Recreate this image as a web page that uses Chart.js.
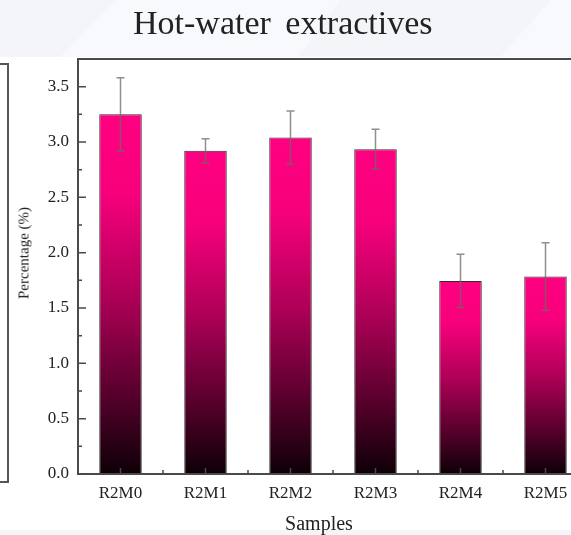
<!DOCTYPE html>
<html>
<head>
<meta charset="utf-8">
<script src="https://cdn.jsdelivr.net/npm/chart.js@4.4.0/dist/chart.umd.min.js"></script>
<style>
	html, body { margin: 0; padding: 0; background: #ffffff; }
	#wrap { position: relative; width: 571px; height: 535px; overflow: hidden; background: #ffffff; }
	#band { position: absolute; left: 0; top: 0; width: 571px; height: 57px; background: #f3f5f9; overflow: hidden; }
	.shape { position: absolute; background: rgba(255, 255, 255, 0.45); }
	#bottomBand { position: absolute; left: 0; top: 530px; width: 571px; height: 5px; background: #f3f5f9; }
	#leftFrame { position: absolute; left: -10px; top: 63px; width: 17px; height: 416px; border: 2px solid #555; border-left: none; }
	#chart { position: absolute; left: 0; top: 0; }
	.serif { font-family: 'Liberation Serif', 'Times New Roman', serif; color: #222; position: absolute; white-space: nowrap; }
	#title { left: 133px; top: 4px; font-size: 34px; word-spacing: 6px; }
	#ytitle { left: 24px; top: 253px; font-size: 15px; transform: translate(-50%, -50%) rotate(-90deg); }
	#xtitle { left: 319px; top: 523px; font-size: 20px; transform: translate(-50%, -50%); }
</style>
</head>
<body>
<div id="wrap">
	<div id="band">
		<div class="shape" style="left:60px; top:0; width:280px; height:57px; clip-path: polygon(20% 0, 100% 0, 85% 100%, 0 100%);"></div>
		<div class="shape" style="left:470px; top:0; width:101px; height:57px; clip-path: polygon(80% 0, 100% 0, 100% 100%, 30% 100%);"></div>
	</div>
	<div id="bottomBand"></div>
	<div id="leftFrame"></div>
	<canvas id="chart" width="620" height="535"></canvas>
	<div id="title" class="serif">Hot-water extractives</div>
	<div id="ytitle" class="serif">Percentage (%)</div>
	<div id="xtitle" class="serif">Samples</div>
</div>
<script>
	const samples = ['R2M0', 'R2M1', 'R2M2', 'R2M3', 'R2M4', 'R2M5'];
	const percentage = [3.25, 2.92, 3.04, 2.935, 1.745, 1.785];
	const errors = [0.33, 0.11, 0.24, 0.18, 0.24, 0.305];
	const yTicks = [0, 0.5, 1.0, 1.5, 2.0, 2.5, 3.0, 3.5];

	const serif = "'Liberation Serif', 'Times New Roman', serif";
	const axisColor = '#4a4a4a';

	function barGradient(context) {
		const chart = context.chart;
		if (!chart.chartArea || context.type !== 'data') return '#ff0080';
		const y = chart.scales.y;
		const top = y.getPixelForValue(context.raw);
		const bottom = y.getPixelForValue(0);
		const g = chart.ctx.createLinearGradient(0, top, 0, bottom);
		g.addColorStop(0, '#ff0080');
		g.addColorStop(0.22, '#f7007c');
		g.addColorStop(0.5, '#b00058');
		g.addColorStop(0.75, '#600030');
		g.addColorStop(1, '#0e0007');
		return g;
	}

	// error bars + axis frame with inward ticks
	const extras = {
		id: 'extras',
		afterDatasetsDraw(chart) {
			const ctx = chart.ctx;
			const y = chart.scales.y;
			const meta = chart.getDatasetMeta(0);
			ctx.save();
			ctx.strokeStyle = 'rgba(105, 105, 105, 0.75)';
			ctx.lineWidth = 1.5;
			meta.data.forEach((bar, i) => {
				const hi = y.getPixelForValue(percentage[i] + errors[i]);
				const lo = y.getPixelForValue(percentage[i] - errors[i]);
				ctx.beginPath();
				ctx.moveTo(bar.x, hi);
				ctx.lineTo(bar.x, lo);
				ctx.moveTo(bar.x - 4, hi);
				ctx.lineTo(bar.x + 4, hi);
				ctx.moveTo(bar.x - 4, lo);
				ctx.lineTo(bar.x + 4, lo);
				ctx.stroke();
			});
			ctx.restore();
		},
		afterDraw(chart) {
			const ctx = chart.ctx;
			const { left, right, top, bottom } = chart.chartArea;
			const y = chart.scales.y;
			const x = chart.scales.x;
			ctx.save();
			ctx.strokeStyle = axisColor;
			ctx.lineWidth = 2;
			ctx.beginPath();
			ctx.moveTo(left, bottom);
			ctx.lineTo(left, top);
			ctx.lineTo(right, top);
			ctx.moveTo(left - 1, bottom);
			ctx.lineTo(right, bottom);
			ctx.stroke();

			ctx.lineWidth = 1.5;
			ctx.beginPath();
			yTicks.forEach(v => {
				const py = y.getPixelForValue(v);
				ctx.moveTo(left, py);
				ctx.lineTo(left + 8, py);
				const pm = y.getPixelForValue(v + 0.25);
				ctx.moveTo(left, pm);
				ctx.lineTo(left + 4, pm);
			});
			samples.forEach((s, i) => {
				const px = x.getPixelForValue(i);
				ctx.moveTo(px, bottom);
				ctx.lineTo(px, bottom - 6);
				const pm = px + (x.getPixelForValue(1) - x.getPixelForValue(0)) / 2;
				ctx.moveTo(pm, bottom);
				ctx.lineTo(pm, bottom - 4);
			});
			ctx.stroke();
			ctx.restore();
		}
	};

	new Chart(document.getElementById('chart').getContext('2d'), {
		type: 'bar',
		data: {
			labels: samples,
			datasets: [{
				data: percentage,
				backgroundColor: barGradient,
				borderColor: '#2e2e2e',
				borderWidth: 1,
				barPercentage: 1,
				categoryPercentage: 0.5
			}]
		},
		options: {
			responsive: false,
			animation: false,
			layout: { padding: { top: 59, right: 32, bottom: 0, left: 0 } },
			plugins: {
				legend: { display: false },
				tooltip: { enabled: false }
			},
			scales: {
				x: {
					grid: { display: false, drawTicks: false },
					border: { display: false },
					ticks: { color: '#222', font: { family: serif, size: 17 }, padding: 9 },
					afterFit: (scale) => { scale.height = 61; }
				},
				y: {
					min: 0,
					max: 3.75,
					grid: { display: false, drawTicks: false },
					border: { display: false },
					ticks: {
						stepSize: 0.5,
						includeBounds: false,
						color: '#222',
						padding: 9,
						font: { family: serif, size: 17 },
						callback: (v) => v.toFixed(1)
					},
					afterBuildTicks: (scale) => { scale.ticks = yTicks.map(v => ({ value: v })); },
					afterFit: (scale) => { scale.width = 78; }
				}
			}
		},
		plugins: [extras]
	});
</script>
</body>
</html>
